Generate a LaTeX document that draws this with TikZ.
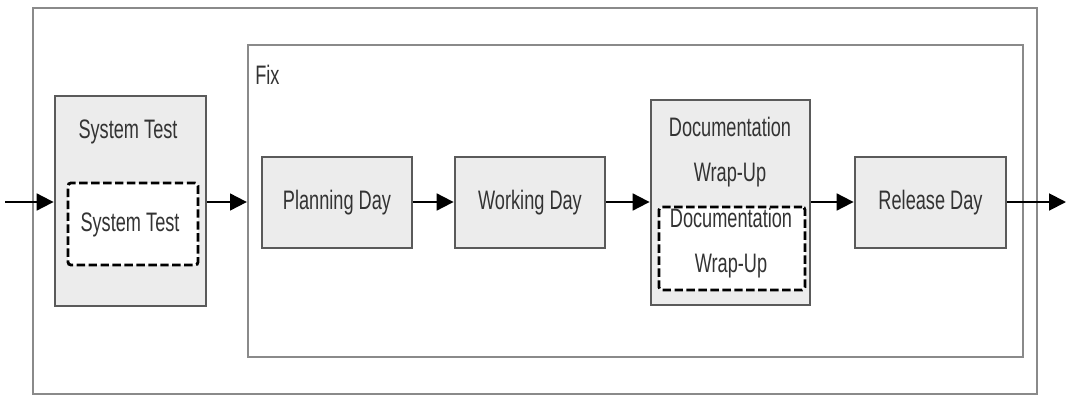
\documentclass[tikz,border=0pt]{standalone}
\usepackage{fontspec}
\setmainfont{Liberation Sans}[FakeStretch=0.68]
\usetikzlibrary{arrows.meta,shadows}
\definecolor{boxfill}{HTML}{ECECEC}
\definecolor{boxline}{HTML}{5A5A5A}
\definecolor{frameline}{HTML}{8A8A8A}
\definecolor{txt}{HTML}{333333}
\tikzset{
  px/.style={x=0.025cm,y=-0.025cm},
  lbl/.style={text=txt,font=\fontsize{19}{32}\selectfont,align=center,inner sep=0pt},
  phase/.style={draw=boxline,line width=2pt,fill=boxfill,inner sep=0pt,lbl,
    drop shadow={shadow xshift=0.6pt,shadow yshift=-0.8pt,opacity=0.35}},
  sub/.style={draw=black,line width=2pt,dash pattern=on 6pt off 2.5pt,fill=white,
    rounded corners=2pt,inner sep=0pt},
  flow/.style={draw=black,line width=1.4pt,-{Triangle[length=12pt,width=12pt]}},
}
\begin{document}
\begin{tikzpicture}[px]
\useasboundingbox (0,0) rectangle (1068,395);
% outer frame and the Fix group
\node (frame) [draw=frameline,line width=1.2pt,minimum width=1004*0.025cm,minimum height=386*0.025cm,inner sep=0pt,
  drop shadow={shadow xshift=0.5pt,shadow yshift=-0.5pt,opacity=0.25},fill=white] at (535,201) {};
\node (fix) [draw=frameline,line width=1.6pt,minimum width=775*0.025cm,minimum height=312*0.025cm,inner sep=0pt,
  drop shadow={shadow xshift=0.6pt,shadow yshift=-0.8pt,opacity=0.35},fill=white] at (635.5,201) {};
\node (fixlabel) [lbl,anchor=north west] at (255,65) {Fix};
% system test
\node (st) [phase,minimum width=151*0.025cm,minimum height=210*0.025cm] at (130.5,201) {};
\node (stlabel) [lbl] at (128,132) {System Test};
\node (stsub) [sub,minimum width=130*0.025cm,minimum height=82*0.025cm] at (133,224) {};
\node (stsublabel) [lbl] at (130,225) {System Test};
% daily phases
\node (plan) [phase,minimum width=150*0.025cm,minimum height=91*0.025cm] at (337,202.5) {Planning Day};
\node (work) [phase,minimum width=150*0.025cm,minimum height=91*0.025cm] at (530,202.5) {Working Day};
\node (doc) [phase,minimum width=159*0.025cm,minimum height=205*0.025cm] at (730.5,202.5) {};
\node (doclabel) [lbl] at (730,152) {Documentation\\Wrap-Up};
\node (docsub) [sub,minimum width=146*0.025cm,minimum height=83*0.025cm] at (732,248.5) {};
\node (docsublabel) [lbl] at (731,243) {Documentation\\Wrap-Up};
\node (rel) [phase,minimum width=151*0.025cm,minimum height=91*0.025cm] at (930.5,202.5) {Release Day};
% connectors
\coordinate (in) at (5,202);
\coordinate (out) at (1066,202);
\draw[flow] (in) -- (st.west |- in);
\draw[flow] (st.east |- in) -- (fix.west |- in);
\draw[flow] (plan.east |- in) -- (work.west |- in);
\draw[flow] (work.east |- in) -- (doc.west |- in);
\draw[flow] (doc.east |- in) -- (rel.west |- in);
\draw[flow] (rel.east |- in) -- (out);
\end{tikzpicture}
\end{document}
